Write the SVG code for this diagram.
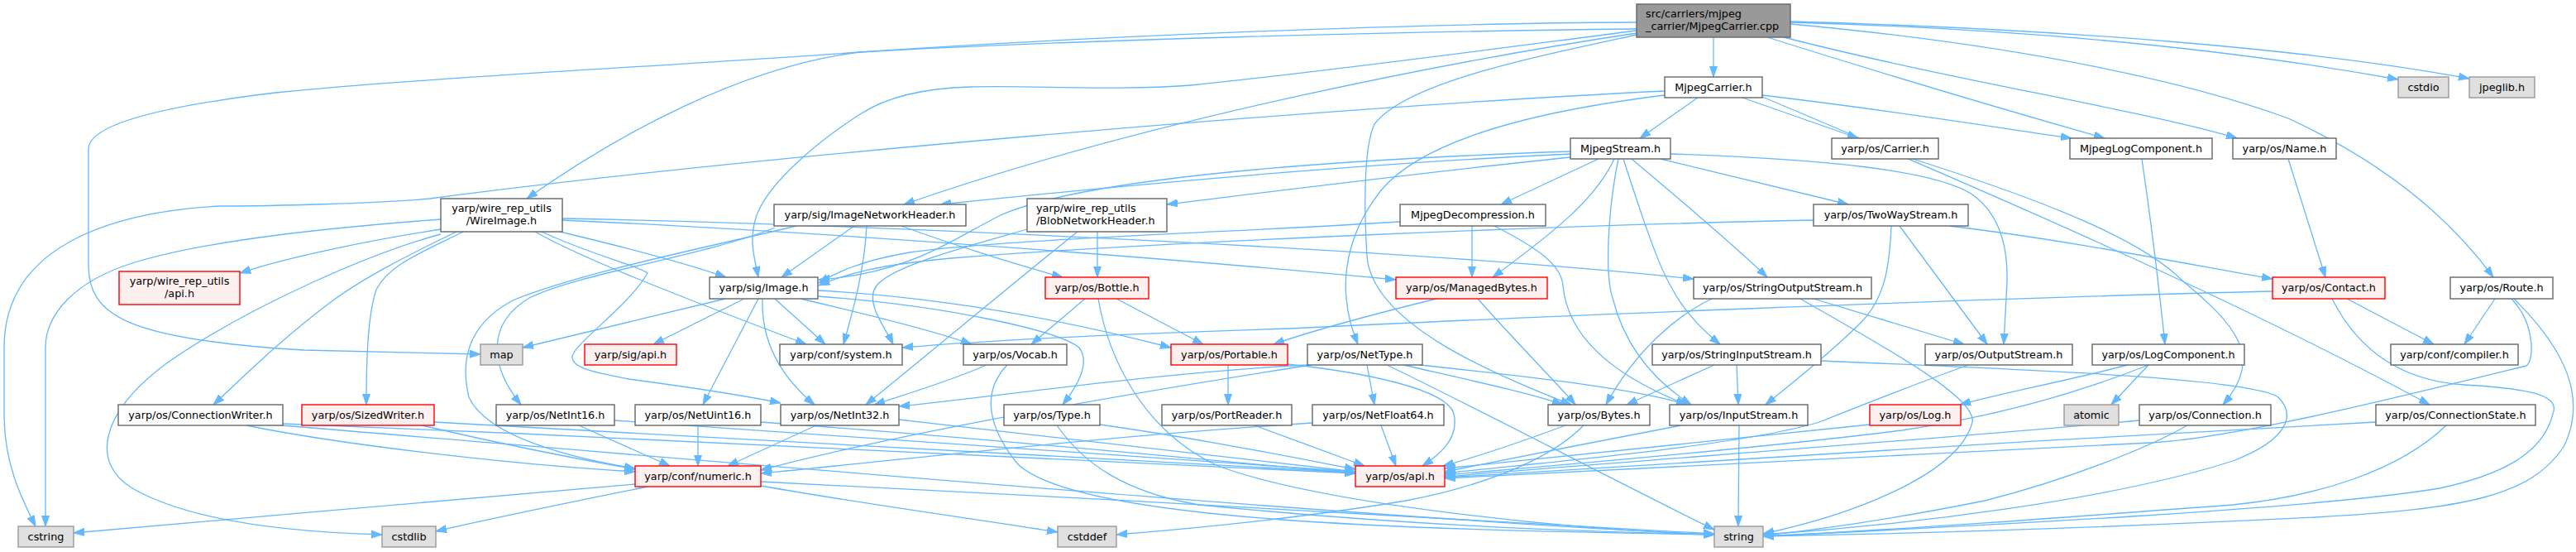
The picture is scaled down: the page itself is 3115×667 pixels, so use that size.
<svg xmlns="http://www.w3.org/2000/svg" width="3115" height="667" viewBox="0 0 3115 667">
<defs>
<marker id="a" markerWidth="13" markerHeight="10" refX="13" refY="5" orient="auto" markerUnits="userSpaceOnUse"><path d="M0,0.5 L13,5 L0,9.5 z" fill="#63b8ff" stroke="#63b8ff" stroke-width="1"/></marker>
<style>
.e path{fill:none;stroke:#63b8ff;stroke-width:1.3;marker-end:url(#a)}
rect{stroke-width:1.4}
.n rect{fill:#ffffff;stroke:#666666}
.r rect{fill:#999999;stroke:#666666}
.t rect{fill:#fff0f0;stroke:#ff0000}
.g rect{fill:#e0e0e0;stroke:#999999}
text{font-family:"DejaVu Sans","Liberation Sans",sans-serif;font-size:12.8px;fill:#000000;text-anchor:middle}
.l{text-anchor:start}
</style>
</defs>
<rect x="0" y="0" width="3115" height="667" fill="#ffffff"/>
<g class="e">
<path d="M2072,45 L2072,93"/>
<path d="M2165,27 C2450,35 2700,60 2900,96"/>
<path d="M2165,26 C2500,35 2800,60 2986,95"/>
<path d="M2137,45 C2280,90 2450,140 2545,167"/>
<path d="M2157,45 C2350,95 2600,135 2705,167"/>
<path d="M2165,29 C2450,55 2650,100 2767,143 C2880,195 2960,260 3015,335"/>
<path d="M1979,35 C1700,38 1300,48 1040,63 C900,80 750,160 637,240"/>
<path d="M1979,27 C1700,28 1300,45 1040,63 C800,80 500,95 333,112 C200,128 107,150 107,180 L107,320 C107,380 150,410 367,423 L581,428"/>
<path d="M1979,37 C1800,60 1600,87 1440,103 C1350,110 1250,103 1173,105 C1100,107 1060,125 1040,138 C990,170 930,220 915,260 C905,290 912,310 917,335"/>
<path d="M1979,40 C1780,70 1400,140 1093,247"/>
<path d="M1979,42 C1850,70 1700,100 1662,150 C1648,180 1650,260 1653,310 C1660,390 1800,450 1900,489"/>
<path d="M2053,118 L1983,167"/>
<path d="M2107,118 L2247,167"/>
<path d="M2131,115 C2300,135 2420,155 2505,167"/>
<path d="M2131,117 C2400,230 2700,360 2938,489"/>
<path d="M2013,115 C1850,135 1720,170 1670,230 C1630,280 1625,330 1628,360 C1630,385 1636,400 1642,416"/>
<path d="M2013,110 C1600,130 900,190 520,240 C450,246 330,249 267,249 C150,255 5,290 5,420 L5,500 C5,560 25,600 43,636"/>
<path d="M1933,192 L1815,247"/>
<path d="M1952,192 C1930,240 1880,280 1805,335"/>
<path d="M1957,192 C1945,250 1940,330 1950,360 C1965,420 2000,460 2045,489"/>
<path d="M1963,192 C1985,260 2005,320 2020,345 C2035,375 2060,400 2080,416"/>
<path d="M1973,192 C2030,240 2090,290 2137,335"/>
<path d="M2008,192 L2235,247"/>
<path d="M2020,186 C2200,192 2340,205 2385,235 C2420,260 2428,300 2427,340 L2423,416"/>
<path d="M1899,183 C1550,195 1300,220 1210,260 C1150,290 1100,330 990,338"/>
<path d="M1899,186 C1600,200 1300,230 1137,247"/>
<path d="M1899,190 C1750,205 1550,230 1411,247"/>
<path d="M2313,192 C2480,245 2590,290 2640,340 C2700,390 2740,430 2688,489"/>
<path d="M2590,192 C2600,260 2610,340 2618,416"/>
<path d="M2767,192 L2812,335"/>
<path d="M533,277 C450,290 350,310 290,330"/>
<path d="M533,265 C400,275 250,290 160,318 C90,340 55,380 55,420 L55,636"/>
<path d="M533,283 C450,305 300,370 200,440 C120,500 110,560 160,590 C230,630 350,643 462,646"/>
<path d="M552,280 C500,305 440,335 400,365 C340,410 300,450 258,489"/>
<path d="M560,280 C510,305 470,320 455,350 C445,380 443,430 443,489"/>
<path d="M677,280 C740,295 820,315 878,335"/>
<path d="M647,280 C700,310 800,350 975,416"/>
<path d="M680,266 C1000,280 1450,315 1688,338"/>
<path d="M680,264 C1000,270 1700,300 2048,337"/>
<path d="M655,280 C720,310 770,320 783,330 C760,370 700,410 692,430 C690,445 720,450 760,458 C850,470 910,480 944,487"/>
<path d="M1033,273 L945,335"/>
<path d="M1048,273 C1045,330 1030,380 1020,416"/>
<path d="M1090,273 C1150,295 1230,320 1285,335"/>
<path d="M963,273 C850,300 700,330 620,363 C570,390 555,430 567,480 C590,530 700,555 768,566"/>
<path d="M937,275 C850,310 700,330 640,360 C590,390 590,440 630,489"/>
<path d="M1327,280 L1327,335"/>
<path d="M1303,280 C1240,330 1120,430 1047,489"/>
<path d="M1242,277 C1180,295 1080,320 1060,345 C1045,365 1070,395 1080,416"/>
<path d="M1693,268 C1500,280 1200,290 1100,305 C1040,315 1010,330 990,342"/>
<path d="M2193,266 C1900,272 1400,292 1150,312 C1060,320 1020,332 990,345"/>
<path d="M1780,273 L1780,335"/>
<path d="M1807,273 C1860,300 1888,320 1890,345 C1895,400 1940,450 2040,489"/>
<path d="M2287,273 C2285,320 2280,360 2250,390 C2210,430 2170,460 2135,489"/>
<path d="M2297,273 L2403,416"/>
<path d="M2357,273 C2500,290 2650,320 2748,337"/>
<path d="M2070,361 C2030,380 1980,420 1942,489"/>
<path d="M2193,361 L2375,416"/>
<path d="M2177,361 C2280,420 2390,480 2385,510 C2370,570 2250,620 2132,645"/>
<path d="M1787,361 C1830,410 1880,460 1905,489"/>
<path d="M1737,361 C1680,375 1600,395 1540,416"/>
<path d="M877,361 L632,420"/>
<path d="M900,361 L790,416"/>
<path d="M917,361 L850,489"/>
<path d="M922,361 C920,420 950,460 985,489"/>
<path d="M937,361 L998,416"/>
<path d="M968,361 C1050,380 1130,400 1175,416"/>
<path d="M989,351 C1150,360 1300,390 1416,420"/>
<path d="M989,358 C1150,370 1280,400 1305,420 C1320,440 1300,470 1285,489"/>
<path d="M1312,361 L1247,416"/>
<path d="M1350,361 L1455,416"/>
<path d="M1328,361 C1340,430 1380,520 1473,563 C1600,610 1900,640 2073,646"/>
<path d="M1193,441 C1150,460 1100,475 1057,489"/>
<path d="M1218,441 C1190,470 1190,510 1230,560 C1300,630 1700,640 2073,646"/>
<path d="M1485,441 L1485,489"/>
<path d="M1557,440 C1650,450 1750,470 1758,500 C1765,530 1740,550 1720,563"/>
<path d="M1653,441 L1662,489"/>
<path d="M1697,441 C1780,460 1850,475 1890,489"/>
<path d="M1717,441 C1850,455 1980,470 2040,489"/>
<path d="M1677,441 C1800,500 1950,580 2073,640"/>
<path d="M1581,441 C1400,450 1200,480 1087,491"/>
<path d="M1585,441 C1400,470 1100,520 920,568"/>
<path d="M2100,441 L2102,489"/>
<path d="M2073,441 L1967,489"/>
<path d="M2202,436 C2400,445 2720,455 2755,480 C2775,500 2770,530 2700,557 C2550,605 2300,635 2132,646"/>
<path d="M2380,441 C2300,470 2250,490 2200,510 C2100,540 1850,560 1747,572"/>
<path d="M2033,514 C1950,530 1820,555 1747,570"/>
<path d="M2103,514 L2102,636"/>
<path d="M1893,514 C1850,530 1800,548 1745,563"/>
<path d="M1915,514 C1870,560 1780,590 1700,605 C1550,630 1400,642 1350,646"/>
<path d="M2261,513 C2100,530 1850,555 1747,566"/>
<path d="M2573,441 C2500,460 2420,475 2370,489"/>
<path d="M2598,441 L2553,489"/>
<path d="M2598,441 C2500,480 2400,505 2300,520 C2100,545 1850,565 1747,574"/>
<path d="M2587,508 C2350,530 2000,555 1747,576"/>
<path d="M2645,514 C2600,540 2500,580 2400,605 C2300,625 2200,640 2132,647"/>
<path d="M2873,510 C2500,530 2000,560 1747,577"/>
<path d="M2958,514 C2900,570 2800,600 2700,610 C2500,625 2300,640 2132,648"/>
<path d="M2838,361 L2943,416"/>
<path d="M2820,361 C2850,420 2900,460 2980,465 C3070,470 3095,480 3087,500 C3075,550 3020,575 2950,590 C2800,615 2400,635 2132,648"/>
<path d="M2748,352 C2400,360 1800,385 1560,397 C1300,405 1150,415 1091,420"/>
<path d="M3017,361 L2980,416"/>
<path d="M3040,361 C3100,420 3130,480 3100,540 C3060,600 2980,615 2800,625 C2500,640 2300,645 2132,648"/>
<path d="M3037,361 C3065,390 3065,435 3055,442 C2900,480 2700,530 2600,535 C2300,550 1900,570 1747,578"/>
<path d="M768,585 C600,600 300,625 89,644"/>
<path d="M783,588 C700,605 600,625 527,642"/>
<path d="M920,587 C1050,610 1200,630 1279,643"/>
<path d="M920,582 C1300,600 1800,630 2073,645"/>
<path d="M298,514 C400,535 600,560 768,570"/>
<path d="M342,512 C800,530 1300,555 1639,572"/>
<path d="M340,514 C900,560 1700,630 2073,646"/>
<path d="M525,510 C900,530 1300,555 1639,571"/>
<path d="M510,514 C600,535 700,555 768,567"/>
<path d="M700,514 L810,563"/>
<path d="M743,508 C1100,530 1400,555 1639,570"/>
<path d="M844,514 L844,563"/>
<path d="M920,510 C1200,530 1450,555 1639,572"/>
<path d="M987,514 L880,563"/>
<path d="M1087,507 C1300,530 1500,555 1639,570"/>
<path d="M1330,513 C1450,530 1550,550 1639,567"/>
<path d="M1278,514 C1310,560 1360,595 1450,610 C1700,635 1900,642 2073,646"/>
<path d="M1517,514 C1560,530 1610,548 1650,563"/>
<path d="M1670,514 L1688,563"/>
<path d="M1587,511 C1300,530 1100,555 920,572"/>
</g>
<g id="n_root" class="r"><rect x="1979" y="5" width="186" height="40"/><text class="l" x="1990" y="21">src/carriers/mjpeg</text><text class="l" x="1990" y="36">_carrier/MjpegCarrier.cpp</text></g>
<g id="n_mc" class="n"><rect x="2013" y="93" width="118" height="25"/><text x="2072" y="110">MjpegCarrier.h</text></g>
<g id="n_cstdio" class="g"><rect x="2900" y="93" width="61" height="25"/><text x="2930.5" y="110">cstdio</text></g>
<g id="n_jpeglib" class="g"><rect x="2986" y="93" width="79" height="25"/><text x="3025.5" y="110">jpeglib.h</text></g>
<g id="n_ms" class="n"><rect x="1899" y="167" width="121" height="25"/><text x="1959.5" y="184">MjpegStream.h</text></g>
<g id="n_carrier" class="n"><rect x="2215" y="167" width="129" height="25"/><text x="2279.5" y="184">yarp/os/Carrier.h</text></g>
<g id="n_mlc" class="n"><rect x="2503" y="167" width="172" height="25"/><text x="2589" y="184">MjpegLogComponent.h</text></g>
<g id="n_name" class="n"><rect x="2700" y="167" width="125" height="25"/><text x="2762.5" y="184">yarp/os/Name.h</text></g>
<g id="n_wi" class="n"><rect x="533" y="240" width="147" height="40"/><text x="606.5" y="256">yarp/wire_rep_utils</text><text x="606.5" y="271">/WireImage.h</text></g>
<g id="n_inh" class="n"><rect x="936" y="247" width="232" height="26"/><text x="1052" y="264">yarp/sig/ImageNetworkHeader.h</text></g>
<g id="n_bnh" class="n"><rect x="1242" y="240" width="169" height="40"/><text class="l" x="1253" y="256">yarp/wire_rep_utils</text><text class="l" x="1253" y="271">/BlobNetworkHeader.h</text></g>
<g id="n_md" class="n"><rect x="1693" y="247" width="176" height="26"/><text x="1781" y="264">MjpegDecompression.h</text></g>
<g id="n_tws" class="n"><rect x="2193" y="247" width="187" height="26"/><text x="2286.5" y="264">yarp/os/TwoWayStream.h</text></g>
<g id="n_wapi" class="t"><rect x="144" y="328" width="146" height="40"/><text x="217" y="344">yarp/wire_rep_utils</text><text x="217" y="359">/api.h</text></g>
<g id="n_img" class="n"><rect x="858" y="335" width="131" height="26"/><text x="923.5" y="352">yarp/sig/Image.h</text></g>
<g id="n_bottle" class="t"><rect x="1264" y="335" width="125" height="26"/><text x="1326.5" y="352">yarp/os/Bottle.h</text></g>
<g id="n_mb" class="t"><rect x="1688" y="335" width="183" height="26"/><text x="1779.5" y="352">yarp/os/ManagedBytes.h</text></g>
<g id="n_sos" class="n"><rect x="2048" y="335" width="215" height="26"/><text x="2155.5" y="352">yarp/os/StringOutputStream.h</text></g>
<g id="n_contact" class="t"><rect x="2748" y="335" width="136" height="26"/><text x="2816" y="352">yarp/os/Contact.h</text></g>
<g id="n_route" class="n"><rect x="2963" y="335" width="124" height="26"/><text x="3025" y="352">yarp/os/Route.h</text></g>
<g id="n_map" class="g"><rect x="581" y="416" width="51" height="25"/><text x="606.5" y="433">map</text></g>
<g id="n_sapi" class="t"><rect x="707" y="416" width="111" height="25"/><text x="762.5" y="433">yarp/sig/api.h</text></g>
<g id="n_sys" class="n"><rect x="943" y="416" width="148" height="25"/><text x="1017" y="433">yarp/conf/system.h</text></g>
<g id="n_vocab" class="n"><rect x="1165" y="416" width="125" height="25"/><text x="1227.5" y="433">yarp/os/Vocab.h</text></g>
<g id="n_portable" class="t"><rect x="1416" y="416" width="141" height="25"/><text x="1486.5" y="433">yarp/os/Portable.h</text></g>
<g id="n_nettype" class="n"><rect x="1581" y="416" width="139" height="25"/><text x="1650.5" y="433">yarp/os/NetType.h</text></g>
<g id="n_sis" class="n"><rect x="1998" y="416" width="204" height="25"/><text x="2100" y="433">yarp/os/StringInputStream.h</text></g>
<g id="n_os" class="n"><rect x="2328" y="416" width="178" height="25"/><text x="2417" y="433">yarp/os/OutputStream.h</text></g>
<g id="n_lc" class="n"><rect x="2530" y="416" width="184" height="25"/><text x="2622" y="433">yarp/os/LogComponent.h</text></g>
<g id="n_compiler" class="n"><rect x="2891" y="416" width="154" height="25"/><text x="2968" y="433">yarp/conf/compiler.h</text></g>
<g id="n_cw" class="n"><rect x="143" y="489" width="199" height="25"/><text x="242.5" y="506">yarp/os/ConnectionWriter.h</text></g>
<g id="n_sw" class="t"><rect x="365" y="489" width="160" height="25"/><text x="445" y="506">yarp/os/SizedWriter.h</text></g>
<g id="n_ni16" class="n"><rect x="600" y="489" width="143" height="25"/><text x="671.5" y="506">yarp/os/NetInt16.h</text></g>
<g id="n_nu16" class="n"><rect x="768" y="489" width="152" height="25"/><text x="844" y="506">yarp/os/NetUint16.h</text></g>
<g id="n_ni32" class="n"><rect x="944" y="489" width="143" height="25"/><text x="1015.5" y="506">yarp/os/NetInt32.h</text></g>
<g id="n_type" class="n"><rect x="1214" y="489" width="116" height="25"/><text x="1272" y="506">yarp/os/Type.h</text></g>
<g id="n_pr" class="n"><rect x="1405" y="489" width="157" height="25"/><text x="1483.5" y="506">yarp/os/PortReader.h</text></g>
<g id="n_nf64" class="n"><rect x="1587" y="489" width="159" height="25"/><text x="1666.5" y="506">yarp/os/NetFloat64.h</text></g>
<g id="n_bytes" class="n"><rect x="1872" y="489" width="123" height="25"/><text x="1933.5" y="506">yarp/os/Bytes.h</text></g>
<g id="n_is" class="n"><rect x="2019" y="489" width="167" height="25"/><text x="2102.5" y="506">yarp/os/InputStream.h</text></g>
<g id="n_log" class="t"><rect x="2261" y="489" width="110" height="25"/><text x="2316" y="506">yarp/os/Log.h</text></g>
<g id="n_atomic" class="g"><rect x="2496" y="489" width="66" height="25"/><text x="2529" y="506">atomic</text></g>
<g id="n_conn" class="n"><rect x="2587" y="489" width="159" height="25"/><text x="2666.5" y="506">yarp/os/Connection.h</text></g>
<g id="n_cs" class="n"><rect x="2873" y="489" width="193" height="25"/><text x="2969.5" y="506">yarp/os/ConnectionState.h</text></g>
<g id="n_num" class="t"><rect x="768" y="563" width="152" height="25"/><text x="844" y="580">yarp/conf/numeric.h</text></g>
<g id="n_osapi" class="t"><rect x="1639" y="563" width="108" height="25"/><text x="1693" y="580">yarp/os/api.h</text></g>
<g id="n_cstring" class="g"><rect x="22" y="636" width="67" height="25"/><text x="55.5" y="653">cstring</text></g>
<g id="n_cstdlib" class="g"><rect x="462" y="636" width="65" height="25"/><text x="494.5" y="653">cstdlib</text></g>
<g id="n_cstddef" class="g"><rect x="1279" y="636" width="71" height="25"/><text x="1314.5" y="653">cstddef</text></g>
<g id="n_string" class="g"><rect x="2073" y="636" width="59" height="25"/><text x="2102.5" y="653">string</text></g>
</svg>
